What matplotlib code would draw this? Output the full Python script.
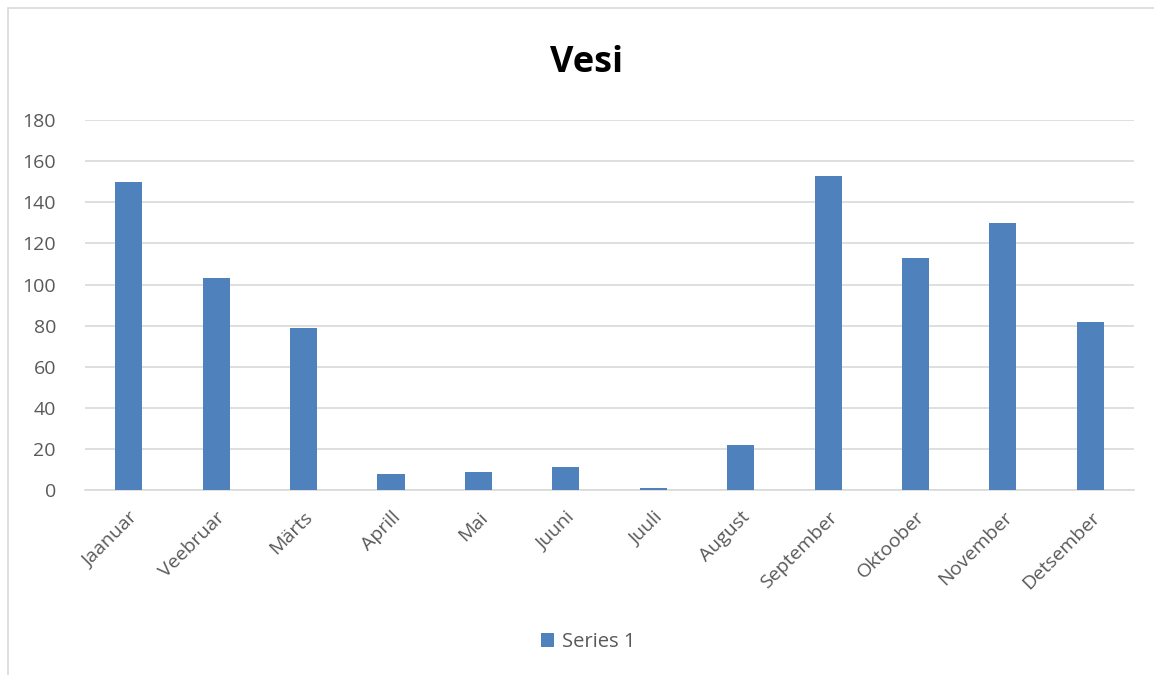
import matplotlib.pyplot as plt
from matplotlib.patches import Rectangle

months = ["Jaanuar", "Veebruar", "Märts", "Aprill", "Mai", "Juuni",
          "Juuli", "August", "September", "Oktoober", "November", "Detsember"]
values = [150, 103, 79, 8, 9, 11, 1, 22, 153, 113, 130, 82]
series_name = "Series 1"

plt.rcParams['font.family'] = ['Open Sans', 'DejaVu Sans']
grey = "#595959"

fig = plt.figure(figsize=(11.54, 6.75), dpi=100)
ax = fig.add_axes([0.0737, 0.274, 0.909, 0.548])

x = range(len(months))
ax.bar(x, values, width=0.31, color="#4f81bd", label=series_name, zorder=3)

ax.set_xlim(-0.5, len(months) - 0.5)
ax.set_ylim(0, 180)
ax.set_yticks(range(0, 181, 20))
ax.grid(axis="y", color="#d9d9d9", linewidth=1.2, zorder=0)
for s in ["top", "right", "left"]:
    ax.spines[s].set_visible(False)
ax.spines["bottom"].set_color("#d9d9d9")
ax.spines["bottom"].set_linewidth(1.2)
ax.tick_params(axis="both", length=0, colors=grey, labelsize=14)
ax.tick_params(axis="y", pad=21)
ax.set_xticks(list(x))
ax.set_xticklabels(months, rotation=45, ha="right", rotation_mode="anchor")
ax.tick_params(axis="x", pad=13)

fig.text(0.508, 0.907, "Vesi", ha="center", va="center", fontsize=26, fontweight="bold", color="black")

fig.legend(loc="center", bbox_to_anchor=(0.51, 0.049), frameon=False, fontsize=14.5,
           labelcolor=grey, handlelength=0.65, handleheight=0.65, handletextpad=0.4)

# outer chart border
fig.patches.append(Rectangle((8 / 1154, -0.01), 1.2, 1 - 8 / 675 + 0.01, transform=fig.transFigure,
                             fill=False, edgecolor="#d9d9d9", linewidth=1.2))

fig.savefig("out.png", dpi=100)
